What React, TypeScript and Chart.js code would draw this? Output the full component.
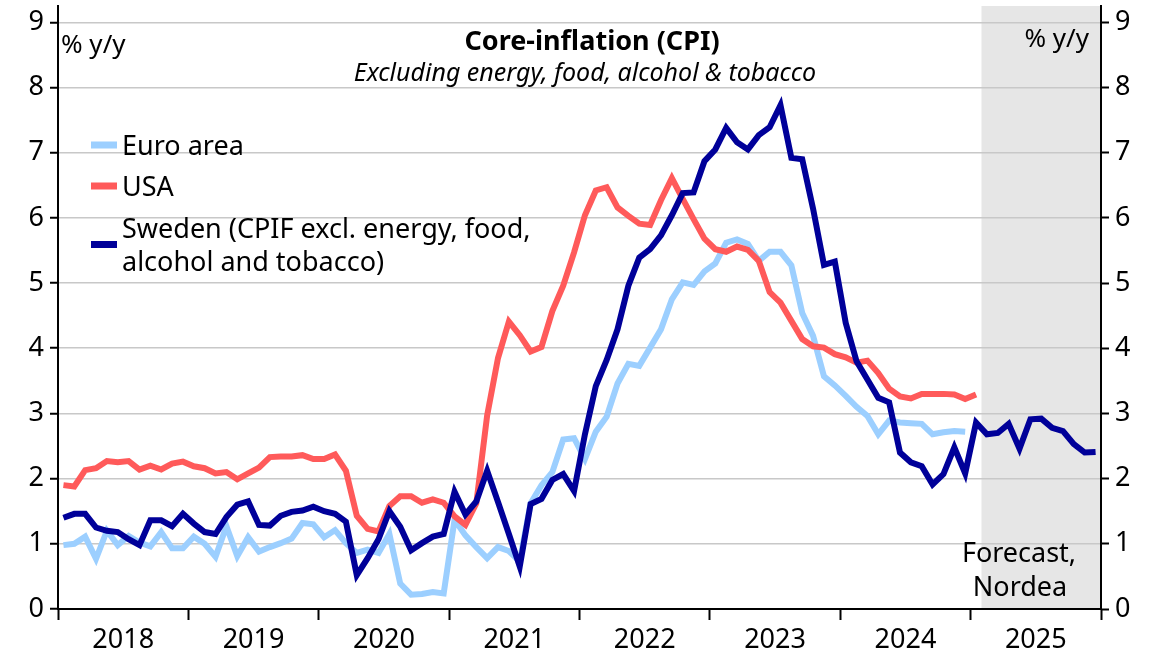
import React, { useEffect, useRef } from 'react';
import { Chart, registerables } from 'chart.js';

Chart.register(...registerables);

// ---- data (monthly, Jan 2018 onwards) ----
const years = ['2018', '2019', '2020', '2021', '2022', '2023', '2024', '2025'];

const euroArea = [
  0.98, 1.0, 1.11, 0.77, 1.2, 0.98, 1.12, 1.02, 0.96, 1.18, 0.93, 0.93,
  1.11, 1.0, 0.8, 1.27, 0.81, 1.1, 0.88, 0.95, 1.01, 1.08, 1.32, 1.3,
  1.1, 1.21, 1.01, 0.86, 0.91, 0.86, 1.15, 0.39, 0.22, 0.23, 0.26, 0.24,
  1.37, 1.13, 0.95, 0.78, 0.95, 0.89, 0.73, 1.62, 1.9, 2.1, 2.6, 2.62,
  2.3, 2.72, 2.95, 3.46, 3.76, 3.73, 4.01, 4.29, 4.75, 5.01, 4.97, 5.18,
  5.3, 5.62, 5.67, 5.6, 5.34, 5.48, 5.48, 5.27, 4.54, 4.19, 3.57, 3.43,
  3.27, 3.1, 2.96, 2.68, 2.89, 2.86, 2.85, 2.84, 2.68, 2.71, 2.73, 2.72,
];

const usa = [
  1.9, 1.88, 2.13, 2.16, 2.27, 2.25, 2.27, 2.14, 2.2, 2.14, 2.23, 2.26,
  2.19, 2.16, 2.08, 2.1, 1.99, 2.08, 2.17, 2.33, 2.34, 2.34, 2.36, 2.3,
  2.3, 2.37, 2.12, 1.43, 1.23, 1.19, 1.58, 1.73, 1.73, 1.63, 1.68, 1.63,
  1.42, 1.29, 1.62, 2.97, 3.85, 4.41, 4.2, 3.95, 4.02, 4.57, 4.96, 5.47,
  6.04, 6.42, 6.47, 6.16, 6.03, 5.91, 5.89, 6.27, 6.61, 6.29, 5.98, 5.68,
  5.52, 5.48, 5.56, 5.51, 5.34, 4.86, 4.7, 4.42, 4.14, 4.03, 4.01, 3.91,
  3.86, 3.78, 3.81, 3.62, 3.38, 3.26, 3.23, 3.3, 3.3, 3.3, 3.29, 3.22,
  3.29,
];

const sweden = [
  1.4, 1.46, 1.46, 1.25, 1.2, 1.18, 1.07, 0.98, 1.36, 1.36, 1.27, 1.46,
  1.31, 1.18, 1.15, 1.41, 1.6, 1.65, 1.29, 1.28, 1.43, 1.49, 1.51, 1.57,
  1.5, 1.46, 1.34, 0.52, 0.78, 1.07, 1.5, 1.26, 0.9, 1.01, 1.11, 1.15,
  1.8, 1.45, 1.65, 2.12, 1.64, 1.15, 0.65, 1.61, 1.69, 1.98, 2.07, 1.81,
  2.68, 3.42, 3.82, 4.29, 4.96, 5.39, 5.52, 5.73, 6.04, 6.38, 6.39, 6.87,
  7.05, 7.38, 7.16, 7.05, 7.27, 7.39, 7.73, 6.92, 6.9, 6.14, 5.28, 5.33,
  4.39, 3.8, 3.52, 3.24, 3.17, 2.4, 2.25, 2.19, 1.91, 2.07, 2.48, 2.08,
  2.86, 2.68, 2.7, 2.84, 2.46, 2.91, 2.92, 2.78, 2.73, 2.53, 2.4, 2.41,
];

const seriesLabels = [
  'Euro area',
  'USA',
  'Sweden (CPIF excl. energy, food,\nalcohol and tobacco)',
];

const yTicks = [0, 1, 2, 3, 4, 5, 6, 7, 8, 9];
const forecastStartMonth = 85; // shaded forecast band starts here (month index)
const totalMonths = 96;

const FONT = "'Noto Sans', 'DejaVu Sans', sans-serif";

export default function App() {
  const ref = useRef<HTMLCanvasElement | null>(null);

  useEffect(() => {
    if (!ref.current) return;
    const toPts = (arr: number[]) => arr.map((v, i) => ({ x: i + 0.5, y: v }));

    const shadePlugin = {
      id: 'shade',
      beforeDraw(chart: any) {
        const { ctx, chartArea, scales } = chart;
        const x0 = scales.x.getPixelForValue(forecastStartMonth);
        ctx.save();
        ctx.fillStyle = '#e6e6e6';
        ctx.fillRect(x0, chartArea.top, chartArea.right - x0, chartArea.bottom - chartArea.top);
        ctx.restore();
      },
    };

    const textPlugin = {
      id: 'texts',
      afterDraw(chart: any) {
        const { ctx } = chart;
        ctx.save();
        ctx.fillStyle = '#000';
        ctx.textBaseline = 'alphabetic';
        // title
        ctx.textAlign = 'center';
        ctx.font = `bold 27px ${FONT}`;
        ctx.fillText('Core-inflation (CPI)', 592, 50);
        ctx.font = `italic 25px ${FONT}`;
        ctx.fillText('Excluding energy, food, alcohol & tobacco', 585, 81);
        // units
        ctx.font = `26px ${FONT}`;
        ctx.textAlign = 'left';
        ctx.fillText('% y/y', 61, 53);
        ctx.textAlign = 'right';
        ctx.fillText('% y/y', 1089, 47);
        // forecast note
        ctx.font = `27px ${FONT}`;
        ctx.textAlign = 'center';
        ctx.fillText('Forecast,', 1019, 562);
        ctx.fillText('Nordea', 1020, 596);

        // legend
        const baselines = [155, 196, 238];
        const lineH = 33;
        ctx.font = `27px ${FONT}`;
        ctx.textAlign = 'left';
        chart.data.datasets.forEach((ds: any, i: number) => {
          const lines = String(ds.label).split('\n');
          const b = baselines[i];
          const cy = b + ((lines.length - 1) * lineH) / 2 - 10;
          ctx.fillStyle = ds.borderColor;
          ctx.fillRect(91, cy - 3.5, 26, 7);
          ctx.fillStyle = '#000';
          lines.forEach((t: string, k: number) => ctx.fillText(t, 122, b + k * lineH));
        });
        ctx.restore();
      },
    };

    const noPad = (s: any) => {
      s.paddingTop = 0;
      s.paddingBottom = 0;
    };

    const chart = new Chart(ref.current, {
      type: 'line',
      data: {
        datasets: [
          {
            label: seriesLabels[0],
            data: toPts(euroArea),
            borderColor: '#9ccfff',
            borderWidth: 6,
            pointRadius: 0,
            order: 2,
          },
          {
            label: seriesLabels[1],
            data: toPts(usa),
            borderColor: '#ff5a5a',
            borderWidth: 6,
            pointRadius: 0,
            order: 1,
          },
          {
            label: seriesLabels[2],
            data: toPts(sweden),
            borderColor: '#000099',
            borderWidth: 6,
            pointRadius: 0,
            order: 0,
          },
        ],
      },
      options: {
        responsive: false,
        animation: false,
        events: [],
        layout: { padding: { top: 6, left: 0, right: 0, bottom: 0 } },
        plugins: {
          legend: { display: false },
          tooltip: { enabled: false },
          title: { display: false },
        },
        scales: {
          x: {
            type: 'linear',
            position: 'bottom',
            min: 0,
            max: totalMonths,
            afterFit: (s: any) => {
              s.height = 44;
              s.paddingLeft = 0;
              s.paddingRight = 0;
            },
            ticks: {
              stepSize: 6,
              autoSkip: false,
              maxRotation: 0,
              padding: 4,
              color: '#000',
              font: { family: FONT, size: 27 },
              callback: (v: any) => {
                const n = Math.round(Number(v));
                return n % 12 === 6 ? years[(n - 6) / 12] : '';
              },
            },
            grid: {
              drawOnChartArea: false,
              drawTicks: true,
              tickLength: 11,
              tickWidth: 2,
              tickColor: (c: any) =>
                Math.round(c.tick?.value ?? 1) % 12 === 0 ? '#000' : 'rgba(0,0,0,0)',
            },
            border: { display: true, color: '#000', width: 2 },
          },
          y: {
            type: 'linear',
            position: 'left',
            min: 0,
            max: 9.25,
            afterFit: (s: any) => {
              s.width = 58;
              noPad(s);
            },
            afterBuildTicks: (s: any) => {
              s.ticks = yTicks.map((v) => ({ value: v }));
            },
            ticks: {
              padding: 6,
              color: '#000',
              font: { family: FONT, size: 27 },
            },
            grid: {
              color: (c: any) => (c.tick && c.tick.value === 0 ? 'rgba(0,0,0,0)' : '#c8c8c8'),
              lineWidth: 1.5,
              tickColor: '#000',
              tickLength: 8,
              tickWidth: 2,
            },
            border: { display: true, color: '#000', width: 2 },
          },
          y2: {
            type: 'linear',
            position: 'right',
            min: 0,
            max: 9.25,
            afterFit: (s: any) => {
              s.width = 55;
              noPad(s);
            },
            afterBuildTicks: (s: any) => {
              s.ticks = yTicks.map((v) => ({ value: v }));
            },
            ticks: {
              padding: 6,
              color: '#000',
              font: { family: FONT, size: 27 },
            },
            grid: {
              drawOnChartArea: false,
              tickColor: '#000',
              tickLength: 8,
              tickWidth: 2,
            },
            border: { display: true, color: '#000', width: 2 },
          },
        },
      },
      plugins: [shadePlugin, textPlugin],
    } as any);

    return () => chart.destroy();
  }, []);

  return (
    <div style={{ position: 'absolute', left: 0, top: 0, width: 1156, height: 653, background: '#fff' }}>
      <canvas ref={ref} width={1156} height={653} style={{ display: 'block' }} />
    </div>
  );
}
